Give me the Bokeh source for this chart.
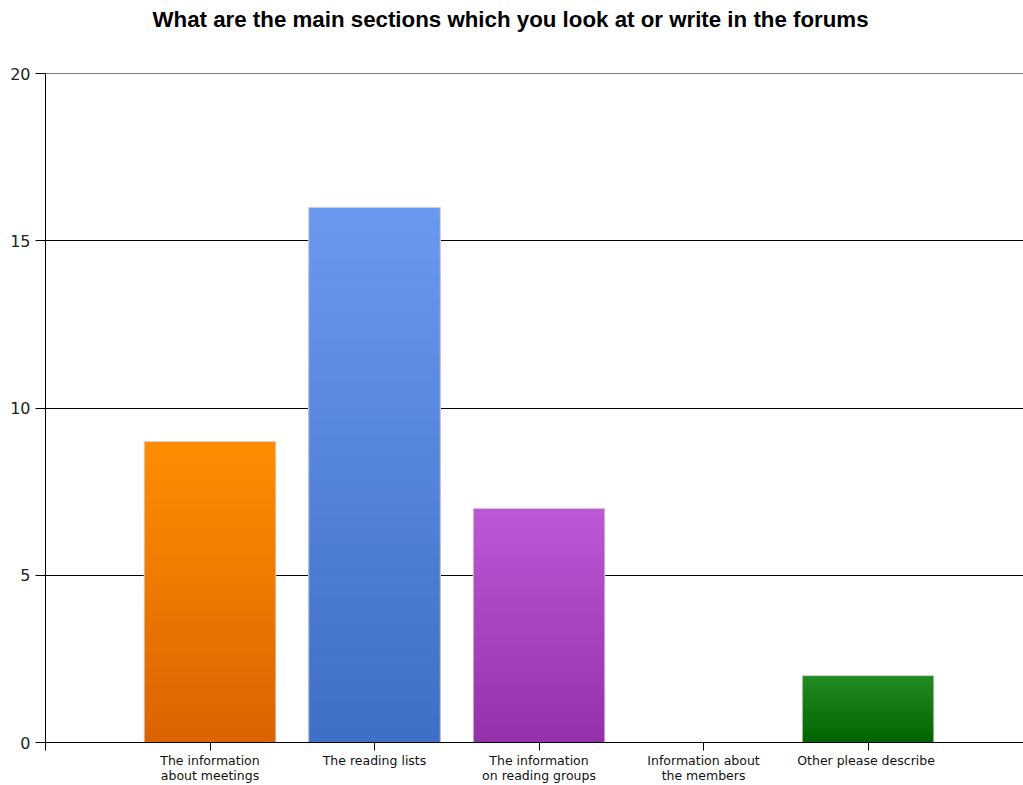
from bokeh.plotting import figure
from bokeh.models import Range1d, FixedTicker, Title, Span
from bokeh.embed import file_html
from bokeh.resources import INLINE

title_text = "What are the main sections which you look at or write in the forums"
categories = ["The information\nabout meetings", "The reading lists",
              "The information\non reading groups", "Information about\nthe members",
              "Other  please describe"]
values = [9, 16, 7, 0, 2]
top_colors = ["#FF8C00", "#6A98EE", "#BC57D6", "#E03030", "#228B22"]
bottom_colors = ["#DA6300", "#3E6EC5", "#9430A8", "#B02020", "#006400"]
y_ticks = [0, 5, 10, 15, 20]

positions = list(range(1, len(categories) + 1))


def hex_to_rgb(h):
    h = h.lstrip("#")
    return tuple(int(h[i:i + 2], 16) for i in (0, 2, 4))


def mix(c_top, c_bot, f):
    a = hex_to_rgb(c_top)
    b = hex_to_rgb(c_bot)
    return "#%02x%02x%02x" % tuple(round(b[k] + (a[k] - b[k]) * f) for k in range(3))


N = 40
seg_x, seg_top, seg_color = [], [], []
for x, v, ct, cb in zip(positions, values, top_colors, bottom_colors):
    if v <= 0:
        continue
    for i in range(N):
        f = 1 - i / N
        seg_x.append(x)
        seg_top.append(v * f)
        seg_color.append(mix(ct, cb, f))

p = figure(width=1023, height=785, output_backend="svg", toolbar_location=None,
           x_range=Range1d(0, 5.945), y_range=Range1d(0, 20),
           min_border_left=45, min_border_right=0, min_border_top=72,
           min_border_bottom=43)
# a blank second line keeps the title near the top of the header band
t = Title(text=title_text + "\n ", align="left", vertical_align="top",
          text_font="Liberation Sans", text_line_height=1.3,
          text_font_size="22.3px", text_font_style="bold", text_color="#000000",
          offset=107, standoff=13)
p.add_layout(t, "above")

p.outline_line_color = None
p.background_fill_color = "white"
p.border_fill_color = "white"

p.vbar(x=seg_x, top=seg_top, bottom=0, width=0.8, fill_color=seg_color,
       line_color=None)
ox = [x for x, v in zip(positions, values) if v > 0]
ov = [v for v in values if v > 0]
p.vbar(x=ox, top=ov, bottom=0, width=0.8, fill_color=None,
       line_color="#d4d4d4", line_width=1)

p.xgrid.grid_line_color = None
p.ygrid.grid_line_color = "black"
p.ygrid.grid_line_width = 1
p.ygrid.ticker = FixedTicker(ticks=y_ticks)
p.add_layout(Span(location=y_ticks[-1], dimension="width",
                  line_color="black", line_width=1))

p.yaxis.ticker = FixedTicker(ticks=y_ticks)
p.yaxis.major_tick_out = 10
p.yaxis.major_tick_in = 0
p.yaxis.minor_tick_line_color = None
p.yaxis.axis_line_color = "black"
p.yaxis.major_tick_line_color = "black"
p.yaxis.major_label_text_font = "DejaVu Sans"
p.yaxis.major_label_text_font_size = "16px"
p.yaxis.major_label_text_color = "#222222"
p.yaxis.major_label_standoff = 5

p.xaxis.ticker = FixedTicker(ticks=[0] + positions)
overrides = {0: ""}
for x, c in zip(positions, categories):
    overrides[x] = c
p.xaxis.major_label_overrides = overrides
p.xaxis.major_tick_out = 8
p.xaxis.major_tick_in = 0
p.xaxis.minor_tick_line_color = None
p.xaxis.axis_line_color = "black"
p.xaxis.major_tick_line_color = "black"
p.xaxis.major_label_text_font = "DejaVu Sans"
p.xaxis.major_label_text_font_size = "12.5px"
p.xaxis.major_label_text_line_height = 1.0
p.xaxis.major_label_text_color = "#111111"
p.xaxis.major_label_standoff = 2

open("out.html", "w").write(file_html(p, INLINE))
